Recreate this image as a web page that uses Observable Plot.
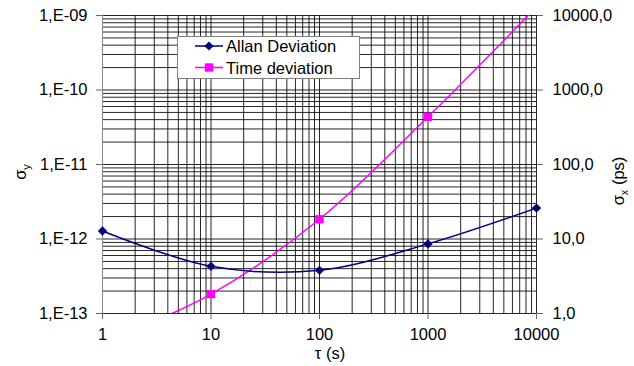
<!DOCTYPE html>
<html><head><meta charset="utf-8">
<script src="https://cdn.jsdelivr.net/npm/d3@7"></script>
<script src="https://cdn.jsdelivr.net/npm/@observablehq/plot@0.6"></script>
<style>body{margin:0;background:#fff;} svg{display:block;}</style>
</head><body><div id="chart"></div>
<script>
// Data
const tau = [1, 10, 100, 1000, 10000];
const allanDev = [1.28e-12, 4.3e-13, 3.8e-13, 8.6e-13, 2.6e-12];
const timeDevPs = [0.4, 1.82, 18.4, 437, 13000];
const xTicks = [1, 10, 100, 1000, 10000];
const yTicksLeft = [1e-13, 1e-12, 1e-11, 1e-10, 1e-9];
const seriesNames = ["Allan Deviation", "Time deviation"];
const seriesColors = ["#000080", "#ff00ff"];
const psToLeft = 1e-13; // 1 ps on the right axis aligns with 1,E-13 on the left

const allan = tau.map((t, i) => ({tau: t, v: allanDev[i]}));
const tdev = tau.map((t, i) => ({tau: t, v: timeDevPs[i] * psToLeft}));

const minorX = [];
for (let k = 0; k < 4; k++) for (let m = 1; m < 10; m++) minorX.push(m * 10 ** k);
minorX.push(10000);
const minorY = [];
for (let k = -13; k < -9; k++) for (let m = 1; m < 10; m++) minorY.push(+(m + "e" + k));
minorY.push(1e-9);

const fmtLeft = d => { const e = Math.round(Math.log10(d)); return "1,E-" + String(-e).padStart(2, "0"); };
const fmtRight = d => (d / psToLeft).toFixed(1).replace(".", ",");

const plot = Plot.plot({
  width: 634, height: 366,
  marginLeft: 102, marginRight: 98, marginTop: 15, marginBottom: 53,
  style: {fontFamily: "'Liberation Sans', Arial, sans-serif", fontSize: "16.5px", background: "#fff", color: "#000"},
  x: {type: "log", domain: [1, 10000]},
  y: {type: "log", domain: [1e-13, 1e-9]},
  marks: [
    Plot.gridX(minorX, {stroke: "#000", strokeOpacity: 0.85, strokeWidth: 1}),
    Plot.gridY(minorY, {stroke: "#000", strokeOpacity: 0.85, strokeWidth: 1}),
    Plot.axisX({ticks: xTicks, tickFormat: d => String(d), tickSize: 6, tickPadding: 9, label: null, stroke: "#666"}),
    Plot.axisY({ticks: yTicksLeft, tickFormat: fmtLeft, tickSize: 6, tickPadding: 9, label: null, stroke: "#666"}),
    Plot.axisY({anchor: "right", ticks: yTicksLeft, tickFormat: fmtRight, tickSize: 6, tickPadding: 10, label: null, stroke: "#666"}),
    Plot.ruleX([1], {stroke: "#888"}),
    Plot.line(tdev, {x: "tau", y: "v", stroke: seriesColors[1], strokeWidth: 1.5, curve: "catmull-rom", clip: true}),
    Plot.line(allan, {x: "tau", y: "v", stroke: seriesColors[0], strokeWidth: 1.5, curve: "catmull-rom", clip: true}),
    Plot.dot(tdev, {x: "tau", y: "v", symbol: "square2", r: 5.3, fill: seriesColors[1], stroke: "none", clip: true}),
    Plot.dot(allan, {x: "tau", y: "v", symbol: "diamond2", r: 4.2, fill: seriesColors[0], stroke: "none"})
  ]
});
document.getElementById("chart").appendChild(plot);

const svg = d3.select(plot);
const font = "'Liberation Sans', Arial, sans-serif";
// Legend
const lg = svg.append("g").attr("font-family", font).attr("font-size", "16.5px").attr("text-anchor", "start");
lg.append("rect").attr("x", 177.5).attr("y", 36.5).attr("width", 182).attr("height", 42)
  .attr("fill", "#fff").attr("stroke", "#808080");
const rows = [46, 67.5];
seriesNames.forEach((name, i) => {
  const y = rows[i];
  lg.append("line").attr("x1", 195).attr("x2", 223).attr("y1", y).attr("y2", y)
    .attr("stroke", seriesColors[i]).attr("stroke-width", 1.5);
  if (i === 0) lg.append("path").attr("d", `M209,${y-4.6}L213.6,${y}L209,${y+4.6}L204.4,${y}Z`).attr("fill", seriesColors[i]);
  else lg.append("rect").attr("x", 204.8).attr("y", y - 4.2).attr("width", 8.4).attr("height", 8.4).attr("fill", seriesColors[i]);
  lg.append("text").attr("x", 226).attr("y", y + 6).attr("text-anchor", "start").text(name);
});
// Axis titles
function sigmaLabel(x, y, sub, rest) {
  const t = svg.append("text").attr("transform", `translate(${x},${y}) rotate(-90)`)
    .attr("text-anchor", "middle").attr("font-family", font).attr("font-size", "16.5px");
  t.append("tspan").text("σ");
  t.append("tspan").attr("dy", 4).attr("font-size", "11px").text(sub);
  if (rest) t.append("tspan").attr("dy", -4).text(rest);
}
sigmaLabel(26, 172, "y", null);
sigmaLabel(624, 181, "x", " (ps)");
svg.append("text").attr("x", 330).attr("y", 359).attr("text-anchor", "middle")
  .attr("font-family", font).attr("font-size", "16.5px").text("τ (s)");
</script>
</body></html>
